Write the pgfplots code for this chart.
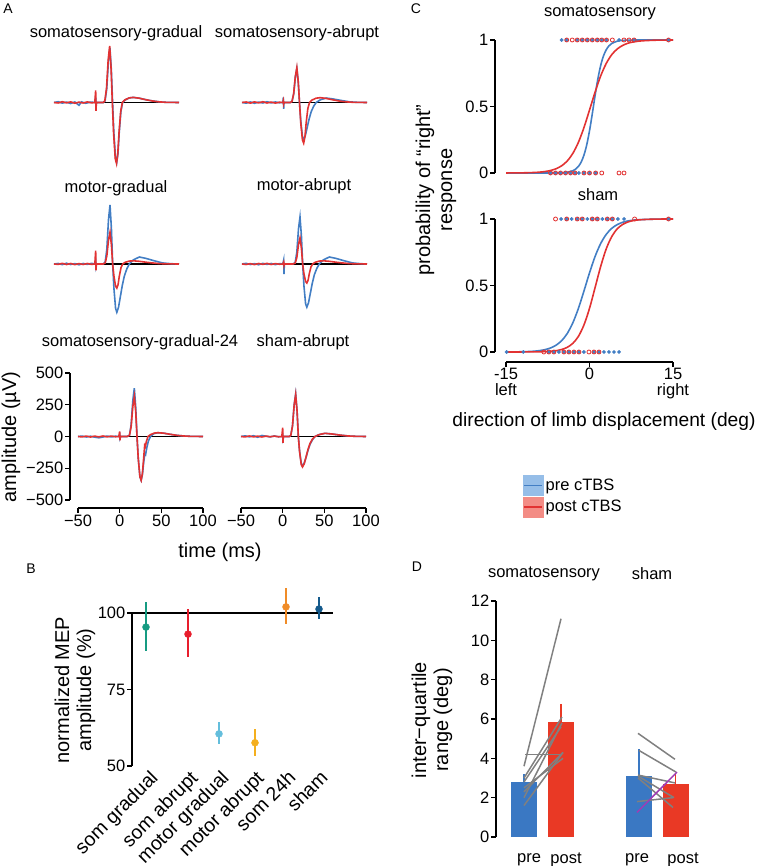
\documentclass[border=0pt]{standalone}
\usepackage{pgfplots}
\pgfplotsset{compat=1.18}
\usepackage{fontspec}
\setmainfont{Liberation Sans}

\definecolor{tblue}{RGB}{66,126,196}
\definecolor{tred}{RGB}{226,50,50}
\definecolor{dblue}{RGB}{58,120,195}
\definecolor{dred}{RGB}{233,57,37}
\definecolor{lblue}{RGB}{150,190,232}
\definecolor{lred}{RGB}{243,140,133}
\definecolor{sgray}{RGB}{128,128,128}
\definecolor{spurple}{RGB}{160,60,180}
\definecolor{cteal}{RGB}{22,155,130}
\definecolor{cred}{RGB}{232,30,45}
\definecolor{ccyan}{RGB}{100,190,220}
\definecolor{cyellow}{RGB}{244,175,30}
\definecolor{corange}{RGB}{240,140,40}
\definecolor{cnavy}{RGB}{20,90,140}

\newcommand\tfs{\fontsize{16.5}{18}\selectfont}
\newcommand\lfs{\fontsize{20}{22}\selectfont}
\newcommand\pfs{\fontsize{14}{16}\selectfont}

\pgfplotsset{
  base/.style={scale only axis, clip=false,
    axis line style={line width=1.3pt,-}, tick style={line width=1.3pt,black},
    major tick length=5pt, tick align=outside,
    tick label style={font=\tfs},
    yticklabel style={inner sep=1.5pt}, xticklabel style={inner sep=1.5pt},
    /pgf/number format/assume math mode=true},
  mep/.style={base, width=125pt, height=127pt, xmin=-50, xmax=100, ymin=-500, ymax=500},
  pre/.style={tblue, line width=1.6pt},
  post/.style={tred, line width=1.6pt},
  zero/.style={black, line width=1.2pt},
  indiv/.style={sgray, line width=1.5pt},
}

\begin{document}
\begin{tikzpicture}[x=1pt,y=1pt]
\useasboundingbox (0,0) rectangle (757,866);

% ---------- A ----------
\node[font=\pfs] at (8,857) {A};

% somatosensory-gradual
\node[font=\tfs] at (116,833) {somatosensory-gradual};
\begin{axis}[mep, hide axis, at={(54pt,700pt)}, anchor=south west]
\addplot[zero] coordinates {(-50,0) (100,0)};
\addplot[pre] coordinates {(-50,0) (-45,6) (-40,-5) (-35,3) (-30,-8) (-25,4) (-20,-22) (-17,5) (-12,-6) (-6,3) (-1,0) (0,40) (0.4,-30) (0.8,0) (9,0) (11.3,13) (13.3,108) (15.3,323) (17.1,430) (18.8,258) (20.3,0) (21.8,-235) (23.8,-432) (25.3,-470) (26.8,-400) (28.3,-235) (30.3,-70) (32.3,0) (35.3,20) (40.3,36) (45.3,40) (52.3,34) (60.3,22) (68.3,12) (76.3,5) (85.3,1) (100,0)};
\addplot[post] coordinates {(-50,0) (-45,-4) (-40,6) (-35,-3) (-30,5) (-25,-6) (-20,3) (-15,-4) (-10,5) (-5,-3) (-1,0) (0,95) (0.4,-65) (0.8,0) (9,0) (11,13) (13,111) (15,334) (16.8,445) (18.5,267) (20,0) (21.5,-240) (23.5,-442) (25,-480) (26.5,-408) (28,-240) (30,-72) (32,0) (35,20) (40,36) (45,40) (52,34) (60,22) (68,12) (76,5) (85,1) (100,0)};
\end{axis}

% somatosensory-abrupt
\node[font=\tfs] at (297,833) {somatosensory-abrupt};
\begin{axis}[mep, hide axis, at={(242pt,700pt)}, anchor=south west]
\addplot[zero] coordinates {(-50,0) (100,0)};
\addplot[pre] coordinates {(-50,0) (-45,-5) (-40,4) (-35,-6) (-30,3) (-25,-4) (-20,6) (-15,-3) (-10,4) (-5,-2) (-1,0) (-0.4,40) (0,-50) (0.4,0) (8,0) (10,8) (12,66) (14,199) (15.8,265) (17.5,159) (19,0) (20.5,-145) (22.5,-267) (24,-290) (26,-261) (28,-203) (30.5,-131) (33,-73) (36,-29) (39,0) (44,21) (51,35) (59,28) (69,16) (79,5) (89,1) (100,0)};
\addplot[post] coordinates {(-50,0) (-45,4) (-40,-5) (-35,5) (-30,-3) (-25,6) (-20,-4) (-15,3) (-10,-5) (-5,2) (-1,0) (-0.4,15) (0,-10) (0.4,0) (8,0) (10,8) (12,69) (14,206) (15.8,275) (17.5,165) (19,0) (20.5,-160) (22.5,-294) (24,-320) (25.5,-272) (27,-160) (29,-48) (31,0) (34,19) (39,34) (44,38) (51,32) (59,21) (67,11) (75,5) (84,1) (100,0)};
\end{axis}

% motor-gradual
\node[font=\tfs] at (116,678) {motor-gradual};
\begin{axis}[mep, hide axis, at={(54pt,538.5pt)}, anchor=south west]
\addplot[zero] coordinates {(-50,0) (100,0)};
\addplot[pre] coordinates {(-50,0) (-45,4) (-40,-5) (-35,6) (-30,-4) (-25,3) (-20,-6) (-15,4) (-10,-3) (-5,5) (-1,0) (0,20) (0.4,-15) (0.8,0) (9,0) (11.4,14) (13.4,116) (15.4,349) (17.2,465) (18.9,279) (20.4,0) (21.9,-190) (23.9,-350) (25.4,-380) (27.4,-342) (29.4,-266) (31.9,-171) (34.4,-95) (37.4,-38) (40.4,0) (45.4,33) (52.4,55) (60.4,44) (70.4,25) (80.4,8) (90.4,2) (100,0)};
\addplot[post] coordinates {(-50,0) (-45,-3) (-40,5) (-35,-4) (-30,4) (-25,-5) (-20,3) (-15,-4) (-10,4) (-5,-3) (-1,0) (0,105) (0.4,-50) (0.8,0) (9,0) (11.4,8) (13.4,63) (15.4,188) (17.2,250) (18.9,150) (20.4,0) (21.9,-95) (23.9,-175) (25.4,-190) (26.9,-162) (28.4,-95) (30.4,-29) (32.4,0) (35.4,13) (40.4,23) (45.4,25) (52.4,21) (60.4,14) (68.4,8) (76.4,3) (85.4,1) (100,0)};
\end{axis}

% motor-abrupt
\node[font=\tfs] at (304,680) {motor-abrupt};
\begin{axis}[mep, hide axis, at={(242pt,538.5pt)}, anchor=south west]
\addplot[zero] coordinates {(-50,0) (100,0)};
\addplot[pre] coordinates {(-50,0) (-45,5) (-40,-4) (-35,3) (-30,-6) (-25,5) (-20,-3) (-15,4) (-10,-5) (-5,3) (-1,0) (0,30) (0.4,-80) (0.8,0) (11,0) (13.8,11) (15.8,93) (17.8,278) (19.6,370) (21.3,222) (22.8,0) (24.3,-170) (26.3,-313) (27.8,-340) (29.8,-306) (31.8,-238) (34.3,-153) (36.8,-85) (39.8,-34) (42.8,0) (47.8,33) (54.8,55) (62.8,44) (72.8,25) (82.8,8) (92.8,2) (100,0)};
\addplot[post] coordinates {(-50,0) (-45,-4) (-40,3) (-35,-5) (-30,4) (-25,-3) (-20,5) (-15,-4) (-10,3) (-5,-2) (-1,0) (0,15) (0.4,-10) (0.8,0) (11,0) (13.8,6) (15.8,51) (17.8,154) (19.6,205) (21.3,123) (22.8,0) (24.3,-75) (26.3,-138) (27.8,-150) (29.3,-128) (30.8,-75) (32.8,-23) (34.8,0) (37.8,13) (42.8,23) (47.8,25) (54.8,21) (62.8,14) (70.8,8) (78.8,3) (87.8,1) (100,0)};
\end{axis}

% somatosensory-gradual-24
\node[font=\tfs] at (140,524) {somatosensory-gradual-24};
\begin{axis}[mep, at={(78pt,366pt)}, anchor=south west,
  axis lines*=left, axis x line shift=8pt, axis y line shift=8pt,
  ytick={-500,-250,0,250,500}, yticklabels={−500,−250,0,250,500},
  xtick={-50,0,50,100}, xticklabels={−50,0,50,100}]
\addplot[zero] coordinates {(-50,0) (100,0)};
\addplot[pre] coordinates {(-50,0) (-45,3) (-40,-4) (-35,2) (-30,-5) (-25,-10) (-20,-4) (-15,3) (-10,-3) (-5,2) (-1,0) (0,15) (0.4,-10) (0.8,0) (9,0) (11.8,11) (13.8,95) (15.8,285) (17.6,380) (19.3,228) (20.8,0) (22.3,-172) (24.3,-317) (25.8,-345) (27.3,-300) (28.8,-205) (30.3,-130) (31.2,-140) (32.5,-90) (34.5,-35) (37,0) (40.8,22) (45.8,30) (52.8,26) (60.8,17) (68.8,9) (76.8,4) (85.8,1) (100,0)};
\addplot[post] coordinates {(-50,0) (-45,-3) (-40,3) (-35,-4) (-30,3) (-25,-3) (-20,4) (-15,-3) (-10,3) (-5,-2) (-1,0) (0,40) (0.4,-30) (0.8,0) (9,0) (11.8,9) (13.8,79) (15.8,236) (17.6,315) (19.3,189) (20.8,0) (22.3,-172) (24.3,-317) (25.8,-345) (27.3,-290) (28.8,-170) (30,-70) (30.8,-80) (32,-40) (34,0) (37,15) (41.8,27) (45.8,30) (52.8,26) (60.8,17) (68.8,9) (76.8,4) (85.8,1) (100,0)};
\end{axis}

% sham-abrupt
\node[font=\tfs] at (303,524) {sham-abrupt};
\begin{axis}[mep, at={(241pt,366pt)}, anchor=south west,
  axis x line*=bottom, axis y line=none, axis x line shift=8pt,
  xtick={-50,0,50,100}, xticklabels={−50,0,50,100}]
\addplot[zero] coordinates {(-50,0) (100,0)};
\addplot[pre] coordinates {(-50,0) (-45,5) (-40,-3) (-35,6) (-30,-6) (-25,8) (-20,2) (-15,-3) (-10,4) (-5,-2) (-1,0) (0,10) (0.4,-15) (0.8,0) (8,0) (9.8,10) (11.8,84) (13.8,251) (15.6,335) (17.3,201) (18.8,0) (20.3,-115) (22.3,-212) (23.8,-230) (25.8,-210) (27.8,-170) (30.3,-112) (32.8,-62) (35.8,-25) (38.8,0) (43.8,15) (50.8,25) (58.8,20) (68.8,11) (78.8,4) (88.8,1) (100,0)};
\addplot[post] coordinates {(-50,0) (-45,-3) (-40,4) (-35,-3) (-30,3) (-25,-4) (-20,3) (-15,-2) (-10,3) (-5,-2) (-1,0) (0,70) (0.4,-50) (0.8,0) (8,0) (9.8,10) (11.8,83) (13.8,248) (15.6,330) (17.3,198) (18.8,0) (20.3,-120) (22.3,-221) (23.8,-240) (25.8,-216) (27.8,-168) (30.3,-104) (32.8,-55) (35.8,-20) (38.8,0) (43.8,15) (50.8,25) (58.8,20) (68.8,11) (78.8,4) (88.8,1) (100,0)};
\end{axis}

\node[font=\lfs, rotate=90, inner sep=0pt] at (11,429) {amplitude (µV)};
\node[font=\lfs] at (220,314) {time (ms)};

% ---------- B ----------
\node[font=\pfs] at (31,297) {B};
\begin{axis}[base, width=201pt, height=153pt, at={(132pt,100pt)}, anchor=south west,
  xmin=132, xmax=333, ymin=50, ymax=100,
  axis lines*=left, x axis line style={draw=none}, xtick style={draw=none},
  ytick={50,75,100},
  xtick={151,191,222,257,289,321},
  xticklabels={som gradual, som abrupt, motor gradual, motor abrupt, som 24h, sham},
  xticklabel style={rotate=45, anchor=north east, inner sep=0pt, yshift=3pt,
    font=\fontsize{19.5}{21}\selectfont},
  error bars/y dir=both, error bars/y explicit]
\addplot[black, line width=1.3pt] coordinates {(132,100) (333,100)};
\addplot[cteal, only marks, mark=*, mark size=3.5pt, error bars/error bar style={line width=1.8pt, cteal}, error bars/error mark=none] coordinates {(146,95.4) += (0,8.2) -= (0,7.8)};
\addplot[cred, only marks, mark=*, mark size=3.5pt, error bars/error bar style={line width=1.8pt, cred}, error bars/error mark=none] coordinates {(188,93.1) += (0,8.2) -= (0,7.4)};
\addplot[ccyan, only marks, mark=*, mark size=3.5pt, error bars/error bar style={line width=1.8pt, ccyan}, error bars/error mark=none] coordinates {(219,60.5) += (0,3.9) -= (0,3.3)};
\addplot[cyellow, only marks, mark=*, mark size=3.5pt, error bars/error bar style={line width=1.8pt, cyellow}, error bars/error mark=none] coordinates {(255,57.6) += (0,4.6) -= (0,4.3)};
\addplot[corange, only marks, mark=*, mark size=3.5pt, error bars/error bar style={line width=1.8pt, corange}, error bars/error mark=none] coordinates {(286,102.0) += (0,6.1) -= (0,5.6)};
\addplot[cnavy, only marks, mark=*, mark size=3.5pt, error bars/error bar style={line width=1.8pt, cnavy}, error bars/error mark=none] coordinates {(319,101.3) += (0,3.9) -= (0,3.3)};
\end{axis}
\node[font=\lfs, rotate=90, align=center, inner sep=0pt] at (75,176) {normalized MEP\\amplitude (\%)};

% ---------- C ----------
\node[font=\pfs] at (416,857) {C};
\node[font=\tfs] at (600,853) {somatosensory};
\begin{axis}[base, width=167pt, height=133pt, at={(506pt,693pt)}, anchor=south west,
  xmin=-15, xmax=15, ymin=0, ymax=1,
  axis y line*=left, axis x line=none, axis y line shift=11pt,
  ytick={0,0.5,1}, yticklabels={0,0.5,1}]
\addplot[pre, smooth] coordinates {(-15,0) (-10,0) (-6,0.0006) (-5,0.0019) (-4,0.0057) (-3,0.0168) (-2.5,0.0287) (-2,0.0488) (-1.5,0.0817) (-1,0.134) (-0.5,0.211) (0,0.317) (0.5,0.445) (1,0.582) (1.5,0.707) (2,0.807) (2.5,0.879) (3,0.926) (3.5,0.956) (4,0.974) (5,0.991) (6,0.997) (8,0.9997) (15,1)};
\addplot[post, smooth] coordinates {(-15,0.0002) (-12,0.0012) (-10,0.0037) (-9,0.0063) (-8,0.0109) (-7,0.0187) (-6,0.032) (-5,0.0542) (-4,0.0903) (-3,0.147) (-2,0.230) (-1,0.341) (0,0.473) (1,0.608) (2,0.729) (3,0.823) (4,0.890) (5,0.933) (6,0.960) (7,0.977) (8,0.986) (9,0.992) (10,0.995) (12,0.9985) (15,0.9997)};
\addplot[tblue, only marks, mark=*, mark size=1.7pt] coordinates {(-5.0,1) (-4.1,1) (-2.2,1) (-1.3,1) (-0.4,1) (0.5,1) (1.4,1) (2.2,1) (3.05,1) (5.3,1) (8.0,1) (14.2,1)
  (-7.0,0) (-6.1,0) (-5.2,0) (-4.3,0) (-3.4,0) (-2.6,0) (-1.9,0) (-1.0,0) (0.0,0) (1.1,0)};
\addplot[tred, only marks, mark=o, mark size=2pt, mark options={line width=0.8pt}] coordinates {(-4.1,1) (-3.1,1) (-2.2,1) (-1.3,1) (-0.4,1) (0.5,1) (1.4,1) (2.2,1) (3.05,1) (4.1,1) (6.2,1) (7.1,1) (8.0,1) (14.2,1)
  (-7.0,0) (-6.1,0) (-5.2,0) (-4.3,0) (-3.4,0) (-2.6,0) (-1.0,0) (0.0,0) (1.1,0) (2.2,0) (5.3,0) (6.2,0)};
\end{axis}

\node[font=\tfs] at (598,671) {sham};
\begin{axis}[base, width=167pt, height=133pt, at={(506pt,514pt)}, anchor=south west,
  xmin=-15, xmax=15, ymin=0, ymax=1,
  axis lines*=left, axis y line shift=11pt, axis x line shift=10pt,
  ytick={0,0.5,1}, yticklabels={0,0.5,1},
  xtick={-15,0,15}, xticklabels={{-15\\left},{0\\\strut},{15\\right}},
  xticklabel style={align=center, font=\fontsize{16.5}{16}\selectfont, inner sep=1pt}]
\addplot[pre, smooth] coordinates {(-15,0.0004) (-13,0.0011) (-11,0.0034) (-10,0.0059) (-9,0.0102) (-8,0.0176) (-7,0.0302) (-6,0.0512) (-5,0.0855) (-4,0.139) (-3,0.219) (-2,0.327) (-1,0.458) (0,0.595) (1,0.718) (2,0.815) (3,0.884) (4,0.930) (5,0.958) (6,0.976) (7,0.986) (8,0.992) (9,0.995) (11,0.998) (13,0.9995) (15,1)};
\addplot[post, smooth] coordinates {(-15,0) (-10,0.0007) (-8,0.0027) (-7,0.0051) (-6,0.0098) (-5,0.0185) (-4,0.035) (-3,0.0648) (-2,0.117) (-1,0.203) (0,0.328) (1,0.484) (2,0.642) (3,0.775) (4,0.868) (5,0.927) (6,0.960) (7,0.979) (8,0.989) (9,0.994) (11,0.998) (13,0.9996) (15,1)};
\addplot[tblue, only marks, mark=*, mark size=1.7pt] coordinates {(-5.1,1) (-4.1,1) (-3.2,1) (-2.2,1) (-1.3,1) (-0.4,1) (0.5,1) (1.4,1) (2.3,1) (3.2,1) (4.1,1) (5.1,1) (6.2,1) (14.2,1)
  (-14.9,0) (-11.9,0) (-7.3,0) (-6.4,0) (-5.5,0) (-4.6,0) (-3.7,0) (-2.8,0) (-1.9,0) (-1.0,0) (0.8,0) (1.7,0) (2.6,0) (3.5,0) (4.4,0) (5.3,0)};
\addplot[tred, only marks, mark=o, mark size=2pt, mark options={line width=0.8pt}] coordinates {(-6.1,1) (-4.1,1) (-2.2,1) (-1.3,1) (0.5,1) (1.4,1) (3.2,1) (4.1,1) (8.1,1) (14.2,1)
  (-8.2,0) (-7.3,0) (-6.4,0) (-4.6,0) (-3.7,0) (-2.8,0) (-1.9,0) (-0.1,0) (0.8,0) (1.7,0)};
\end{axis}
\node[font=\lfs, rotate=90, align=center, inner sep=0pt] at (436,676) {probability of “right”\\response};
\node[font=\fontsize{19.2}{22}\selectfont, inner sep=0pt] at (604,444) {direction of limb displacement (deg)};

% legend
\begin{axis}[hide axis, scale only axis, width=757pt, height=866pt, at={(0pt,0pt)}, anchor=south west,
  xmin=0, xmax=757, ymin=0, ymax=866,
  legend style={at={(0.6909,0.4515)}, anchor=north west, draw=none, fill=none,
    font=\tfs, inner sep=0pt, row sep=1pt, cells={anchor=west}}]
\addlegendimage{legend image code/.code={\fill[lblue] (0pt,-10pt) rectangle (20pt,10pt); \draw[tblue, line width=1.6pt] (1pt,0pt) -- (19pt,0pt);}}
\addlegendentry{pre cTBS}
\addlegendimage{legend image code/.code={\fill[lred] (0pt,-10pt) rectangle (20pt,10pt); \draw[tred, line width=1.6pt] (1pt,0pt) -- (19pt,0pt);}}
\addlegendentry{post cTBS}
\end{axis}

% ---------- D ----------
\node[font=\pfs] at (417,299) {D};
\node[font=\tfs] at (544,292) {somatosensory};
\node[font=\tfs] at (652,292) {sham};
\begin{axis}[base, width=204pt, height=236pt, at={(496pt,29pt)}, anchor=south west,
  xmin=496, xmax=700, ymin=0, ymax=12,
  axis lines*=left, x axis line style={draw=none}, xtick style={draw=none},
  ytick={0,2,...,12},
  xtick={529,566,637,683}, xticklabels={pre,post,pre,post},
  xticklabel style={anchor=north, yshift=-11pt, inner sep=0pt},
  error bars/y dir=plus, error bars/y explicit, error bars/error mark=none]
\addplot[ybar, bar width=26, fill=dblue, draw=none, error bars/error bar style={line width=1.2pt, dblue}] coordinates {(524,2.8) +- (0,0.4)};
\addplot[ybar, bar width=26, fill=dred, draw=none, error bars/error bar style={line width=1.2pt, dred}] coordinates {(561,5.87) +- (0,0.9)};
\addplot[ybar, bar width=26, fill=dblue, draw=none, error bars/error bar style={line width=1.2pt, dblue}] coordinates {(639,3.1) +- (0,1.36)};
\addplot[ybar, bar width=26, fill=dred, draw=none, error bars/error bar style={line width=1.2pt, dred}] coordinates {(675.5,2.7) +- (0,0.55)};
% individual subjects, somatosensory
\addplot[indiv] coordinates {(524,3.6) (561,11.1)};
\addplot[indiv] coordinates {(525,4.2) (562,4.2)};
\addplot[indiv] coordinates {(524,3.0) (562,6.1)};
\addplot[indiv] coordinates {(524,2.8) (561,5.6)};
\addplot[indiv] coordinates {(524,2.3) (563,4.3)};
\addplot[indiv] coordinates {(524,1.6) (563,4.3)};
\addplot[indiv] coordinates {(524,2.0) (562,5.8)};
\addplot[indiv] coordinates {(524,2.5) (563,4.0)};
% individual subjects, sham
\addplot[indiv] coordinates {(638,5.27) (675,3.95)};
\addplot[indiv] coordinates {(639,4.4) (676,3.3)};
\addplot[indiv] coordinates {(638,3.15) (675,2.75)};
\addplot[indiv] coordinates {(638,3.1) (674,2.0)};
\addplot[indiv] coordinates {(637,1.8) (673,2.0)};
\addplot[indiv] coordinates {(638,3.0) (673,1.5)};
\addplot[spurple, line width=1.5pt] coordinates {(637,1.25) (677,3.3)};
\end{axis}
\node[font=\lfs, rotate=90, align=center, inner sep=0pt] at (432,146) {inter−quartile\\range (deg)};

\end{tikzpicture}
\end{document}
